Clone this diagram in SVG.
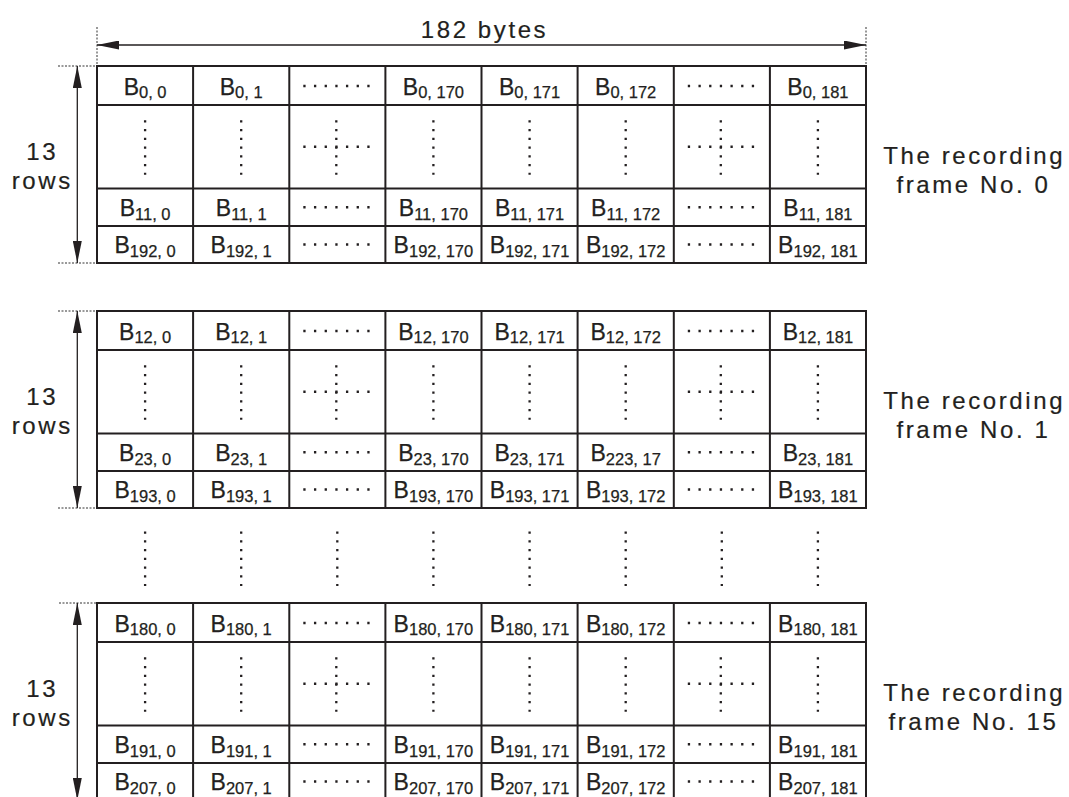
<svg xmlns="http://www.w3.org/2000/svg" xmlns:xlink="http://www.w3.org/1999/xlink" width="1069" height="797" viewBox="0 0 1069 797">
<style>
.grid{stroke:#231f20;stroke-width:2;fill:none}
.tick{stroke:#333;stroke-width:1;stroke-dasharray:2 1.5;fill:none}
.dim{stroke:#231f20;stroke-width:1.3;fill:none;marker-start:url(#ah);marker-end:url(#ah)}
.dot{stroke:#231f20;stroke-width:2.3;fill:none}
.c{font-family:"Liberation Sans",Arial,sans-serif;font-size:23px;fill:#231f20;stroke:#231f20;stroke-width:0.25;text-anchor:middle}
.c tspan{font-size:16.5px}
.lab{font-family:"Liberation Sans",Arial,sans-serif;font-size:24px;fill:#231f20;stroke:#231f20;stroke-width:0.2;text-anchor:middle;letter-spacing:2.6px}
</style>
<defs>
<marker id="ah" viewBox="0 0 22 9" refX="22" refY="4.5" markerWidth="22" markerHeight="9" markerUnits="userSpaceOnUse" orient="auto-start-reverse"><path d="M0,0L22,4.5L0,9z" fill="#231f20"/></marker>
<line id="hd" class="dot" x1="-34" y1="0" x2="34" y2="0" stroke-dasharray="2.3 8.367"/>
<line id="vd" class="dot" x1="0" y1="-26.5" x2="0" y2="28" stroke-dasharray="2.3 6.45"/>
<g id="cr"><use href="#hd"/><use href="#vd" x="-1"/></g>
<g id="grid">
<rect class="grid" x="97" y="0" width="769" height="197"/>
<path class="grid" d="M97,39H866M97,122.5H866M97,160H866M193.1,0V197M289.3,0V197M385.4,0V197M481.5,0V197M577.6,0V197M673.8,0V197M769.9,0V197"/>
</g>
<g id="midrow">
<use href="#vd" x="145.1"/><use href="#vd" x="241.2"/><use href="#cr" x="337.3"/><use href="#vd" x="433.4"/><use href="#vd" x="529.6"/><use href="#vd" x="625.7"/><use href="#cr" x="721.8"/><use href="#vd" x="817.9"/>
</g>
</defs>

<g id="connectors">
<line class="tick" x1="97" y1="27" x2="97" y2="65"/>
<line class="tick" x1="866" y1="27" x2="866" y2="65"/>
<line class="dim" x1="97" y1="45" x2="866" y2="45"/>
<line class="tick" x1="58" y1="66" x2="96" y2="66"/>
<line class="tick" x1="58" y1="263" x2="96" y2="263"/>
<line class="dim" x1="77.3" y1="66" x2="77.3" y2="263"/>
<line class="tick" x1="58" y1="311" x2="96" y2="311"/>
<line class="tick" x1="58" y1="508" x2="96" y2="508"/>
<line class="dim" x1="77.3" y1="311" x2="77.3" y2="508"/>
<line class="tick" x1="59" y1="603" x2="96" y2="603"/>
<line class="tick" x1="59" y1="800" x2="96" y2="800"/>
<line class="dim" x1="77.3" y1="603" x2="77.3" y2="800"/>
</g>

<g id="width-label"><text class="lab" x="484.5" y="37.5">182 bytes</text></g>

<g id="frame0">
<use href="#grid" y="66"/>
<use href="#midrow" y="146.75"/>
<text class="c" x="145.1" y="94.5">B<tspan dy="3.5">0, 0</tspan></text>
<text class="c" x="241.2" y="94.5">B<tspan dy="3.5">0, 1</tspan></text>
<use href="#hd" x="337.3" y="86"/>
<text class="c" x="433.4" y="94.5">B<tspan dy="3.5">0, 170</tspan></text>
<text class="c" x="529.6" y="94.5">B<tspan dy="3.5">0, 171</tspan></text>
<text class="c" x="625.7" y="94.5">B<tspan dy="3.5">0, 172</tspan></text>
<use href="#hd" x="721.8" y="86"/>
<text class="c" x="817.9" y="94.5">B<tspan dy="3.5">0, 181</tspan></text>
<text class="c" x="145.1" y="216">B<tspan dy="3.5">11, 0</tspan></text>
<text class="c" x="241.2" y="216">B<tspan dy="3.5">11, 1</tspan></text>
<use href="#hd" x="337.3" y="207.25"/>
<text class="c" x="433.4" y="216">B<tspan dy="3.5">11, 170</tspan></text>
<text class="c" x="529.6" y="216">B<tspan dy="3.5">11, 171</tspan></text>
<text class="c" x="625.7" y="216">B<tspan dy="3.5">11, 172</tspan></text>
<use href="#hd" x="721.8" y="207.25"/>
<text class="c" x="817.9" y="216">B<tspan dy="3.5">11, 181</tspan></text>
<text class="c" x="145.1" y="253">B<tspan dy="3.5">192, 0</tspan></text>
<text class="c" x="241.2" y="253">B<tspan dy="3.5">192, 1</tspan></text>
<use href="#hd" x="337.3" y="244.5"/>
<text class="c" x="433.4" y="253">B<tspan dy="3.5">192, 170</tspan></text>
<text class="c" x="529.6" y="253">B<tspan dy="3.5">192, 171</tspan></text>
<text class="c" x="625.7" y="253">B<tspan dy="3.5">192, 172</tspan></text>
<use href="#hd" x="721.8" y="244.5"/>
<text class="c" x="817.9" y="253">B<tspan dy="3.5">192, 181</tspan></text>
<text class="lab" x="42.3" y="160">13</text>
<text class="lab" x="42.3" y="189">rows</text>
<text class="lab" x="974.2" y="164">The recording</text>
<text class="lab" x="973.4" y="193">frame No. 0</text>
</g>

<g id="frame1">
<use href="#grid" y="311"/>
<use href="#midrow" y="391.75"/>
<text class="c" x="145.1" y="339.5">B<tspan dy="3.5">12, 0</tspan></text>
<text class="c" x="241.2" y="339.5">B<tspan dy="3.5">12, 1</tspan></text>
<use href="#hd" x="337.3" y="331"/>
<text class="c" x="433.4" y="339.5">B<tspan dy="3.5">12, 170</tspan></text>
<text class="c" x="529.6" y="339.5">B<tspan dy="3.5">12, 171</tspan></text>
<text class="c" x="625.7" y="339.5">B<tspan dy="3.5">12, 172</tspan></text>
<use href="#hd" x="721.8" y="331"/>
<text class="c" x="817.9" y="339.5">B<tspan dy="3.5">12, 181</tspan></text>
<text class="c" x="145.1" y="461">B<tspan dy="3.5">23, 0</tspan></text>
<text class="c" x="241.2" y="461">B<tspan dy="3.5">23, 1</tspan></text>
<use href="#hd" x="337.3" y="452.25"/>
<text class="c" x="433.4" y="461">B<tspan dy="3.5">23, 170</tspan></text>
<text class="c" x="529.6" y="461">B<tspan dy="3.5">23, 171</tspan></text>
<text class="c" x="625.7" y="461">B<tspan dy="3.5">223, 17</tspan></text>
<use href="#hd" x="721.8" y="452.25"/>
<text class="c" x="817.9" y="461">B<tspan dy="3.5">23, 181</tspan></text>
<text class="c" x="145.1" y="498">B<tspan dy="3.5">193, 0</tspan></text>
<text class="c" x="241.2" y="498">B<tspan dy="3.5">193, 1</tspan></text>
<use href="#hd" x="337.3" y="489.5"/>
<text class="c" x="433.4" y="498">B<tspan dy="3.5">193, 170</tspan></text>
<text class="c" x="529.6" y="498">B<tspan dy="3.5">193, 171</tspan></text>
<text class="c" x="625.7" y="498">B<tspan dy="3.5">193, 172</tspan></text>
<use href="#hd" x="721.8" y="489.5"/>
<text class="c" x="817.9" y="498">B<tspan dy="3.5">193, 181</tspan></text>
<text class="lab" x="42.3" y="405">13</text>
<text class="lab" x="42.3" y="434">rows</text>
<text class="lab" x="974.2" y="409">The recording</text>
<text class="lab" x="973.4" y="438">frame No. 1</text>
</g>

<g id="gap-dots">
<use href="#vd" x="145.1" y="558"/><use href="#vd" x="241.2" y="558"/><use href="#vd" x="337.3" y="558"/><use href="#vd" x="433.4" y="558"/><use href="#vd" x="529.6" y="558"/><use href="#vd" x="625.7" y="558"/><use href="#vd" x="721.8" y="558"/><use href="#vd" x="817.9" y="558"/>
</g>

<g id="frame15">
<use href="#grid" y="603"/>
<use href="#midrow" y="683.75"/>
<text class="c" x="145.1" y="631.5">B<tspan dy="3.5">180, 0</tspan></text>
<text class="c" x="241.2" y="631.5">B<tspan dy="3.5">180, 1</tspan></text>
<use href="#hd" x="337.3" y="623"/>
<text class="c" x="433.4" y="631.5">B<tspan dy="3.5">180, 170</tspan></text>
<text class="c" x="529.6" y="631.5">B<tspan dy="3.5">180, 171</tspan></text>
<text class="c" x="625.7" y="631.5">B<tspan dy="3.5">180, 172</tspan></text>
<use href="#hd" x="721.8" y="623"/>
<text class="c" x="817.9" y="631.5">B<tspan dy="3.5">180, 181</tspan></text>
<text class="c" x="145.1" y="753">B<tspan dy="3.5">191, 0</tspan></text>
<text class="c" x="241.2" y="753">B<tspan dy="3.5">191, 1</tspan></text>
<use href="#hd" x="337.3" y="744.25"/>
<text class="c" x="433.4" y="753">B<tspan dy="3.5">191, 170</tspan></text>
<text class="c" x="529.6" y="753">B<tspan dy="3.5">191, 171</tspan></text>
<text class="c" x="625.7" y="753">B<tspan dy="3.5">191, 172</tspan></text>
<use href="#hd" x="721.8" y="744.25"/>
<text class="c" x="817.9" y="753">B<tspan dy="3.5">191, 181</tspan></text>
<text class="c" x="145.1" y="790">B<tspan dy="3.5">207, 0</tspan></text>
<text class="c" x="241.2" y="790">B<tspan dy="3.5">207, 1</tspan></text>
<use href="#hd" x="337.3" y="781.5"/>
<text class="c" x="433.4" y="790">B<tspan dy="3.5">207, 170</tspan></text>
<text class="c" x="529.6" y="790">B<tspan dy="3.5">207, 171</tspan></text>
<text class="c" x="625.7" y="790">B<tspan dy="3.5">207, 172</tspan></text>
<use href="#hd" x="721.8" y="781.5"/>
<text class="c" x="817.9" y="790">B<tspan dy="3.5">207, 181</tspan></text>
<text class="lab" x="42.3" y="697">13</text>
<text class="lab" x="42.3" y="726">rows</text>
<text class="lab" x="974.2" y="701">The recording</text>
<text class="lab" x="973.4" y="730">frame No. 15</text>
</g>
</svg>
